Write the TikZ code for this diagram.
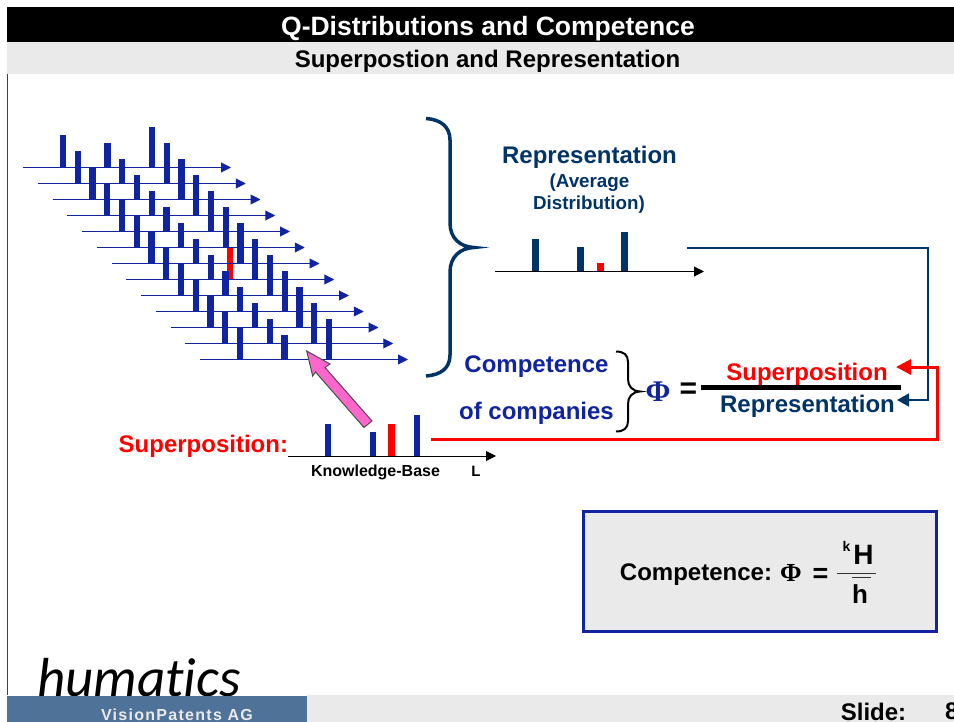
\documentclass[tikz,border=0pt]{standalone}
\usepackage{fontspec}
\setmainfont{Liberation Sans}
\newfontfamily\logofont[Ligatures=NoCommon]{Carlito}
\newfontfamily\symbfont{Liberation Serif}
\usetikzlibrary{arrows.meta}
\definecolor{barblue}{HTML}{1023A0}
\definecolor{navy}{HTML}{003366}
\definecolor{panelgrey}{HTML}{EAEAEA}
\definecolor{footblue}{HTML}{4F7299}
\definecolor{pinkarrow}{HTML}{FF66CC}
\tikzset{
  txt/.style={inner sep=0pt,outer sep=0pt,font=\bfseries,anchor=center},
  axisline/.style={draw=barblue,line width=1pt,-{Triangle[length=10pt,width=10pt]}},
  blackaxis/.style={draw=black,line width=1pt,-{Triangle[length=10pt,width=10pt]}},
  bluebar/.style={draw=barblue,line width=6.4pt},
  navybar/.style={draw=navy,line width=6.4pt},
  redbar/.style={draw=red,line width=6.4pt},
  bigbrace/.style={draw=navy,line width=3.5pt},
  smallbrace/.style={draw=black,line width=2pt},
  navyconn/.style={draw=navy,line width=1.5pt,-{Triangle[length=12pt,width=13pt]}},
  redconn/.style={draw=red,line width=3pt,-{Triangle[length=15pt,width=15pt]}},
}
\begin{document}
\begin{tikzpicture}[x=1pt,y=-1pt]
\useasboundingbox (0,0) rectangle (954,722);
\clip (0,0) rectangle (954,722);
% header
\fill[black] (7,7) rectangle (954,42);
\fill[panelgrey] (7,42) rectangle (954,74);
\draw[line width=1pt,black!75] (7.5,74) -- (7.5,695);
\node[txt,text=white,font=\bfseries\fontsize{26.5}{27}\selectfont] (title) at (488,29) {Q-Distributions and Competence};
\node[txt,font=\bfseries\fontsize{24}{24}\selectfont] (subtitle) at (487.5,61) {Superpostion and Representation};
% stacked distributions
\foreach \r in {0,...,12}{
  \pgfmathsetmacro{\xo}{23+14.75*\r}
  \pgfmathsetmacro{\yo}{167.5+16*\r}
  \ifnum\r=7
    \draw[redbar] (\xo+104,\yo) -- (\xo+104,\yo-32);
  \fi
  \draw[bluebar] (\xo+40,\yo) -- (\xo+40,\yo-32);
  \draw[bluebar] (\xo+84.5,\yo) -- (\xo+84.5,\yo-24);
  \draw[bluebar] (\xo+129,\yo) -- (\xo+129,\yo-40);
}
\foreach \r in {0,...,12}{
  \pgfmathsetmacro{\xo}{23+14.75*\r}
  \pgfmathsetmacro{\yo}{167.5+16*\r}
  \coordinate (rowstart\r) at (\xo,\yo);
  \coordinate (rowend\r) at (\xo+208,\yo);
  \draw[axisline] (rowstart\r) -- (rowend\r);
}
% big brace
\draw[bigbrace] (426,118.5) .. controls (441,119.5) and (450,127) .. (450,140)
  -- (450,223) .. controls (450,238) and (460,247) .. (474,247.5)
  .. controls (460,248) and (450,257) .. (450,272)
  -- (450,355) .. controls (450,368) and (441,375) .. (426,376);
% representation
\node[txt,text=navy,font=\bfseries\fontsize{24}{24}\selectfont] (reptitle) at (589.5,157.5) {Representation};
\node[txt,text=navy,font=\bfseries\fontsize{18.8}{20}\selectfont] (avg1) at (589.5,183) {(Average};
\node[txt,text=navy,font=\bfseries\fontsize{18.8}{20}\selectfont] (avg2) at (589,205) {Distribution)};
\draw[navybar] (535.5,271.5) -- (535.5,239);
\draw[navybar] (580.5,271.5) -- (580.5,247);
\draw[redbar] (600.5,271.5) -- (600.5,263);
\draw[navybar] (624.5,271.5) -- (624.5,232);
\coordinate (repstart) at (495,271.5);
\coordinate (repend) at (704,271.5);
\draw[blackaxis] (repstart) -- (repend);
% competence
\node[txt,text=barblue,font=\bfseries\fontsize{24}{24}\selectfont] (comp1) at (536.5,366.5) {Competence};
\node[txt,text=barblue,font=\bfseries\fontsize{24}{24}\selectfont] (comp2) at (536.5,413) {of companies};
\draw[smallbrace] (616,351.5) .. controls (624,351.5) and (628,355) .. (628,362)
  -- (628,379) .. controls (628,386) and (632,391) .. (640,391.5)
  .. controls (632,392) and (628,397) .. (628,404)
  -- (628,421) .. controls (628,428) and (624,431.5) .. (616,431.5);
\node[txt,text=barblue,font=\symbfont\bfseries\fontsize{30}{30}\selectfont] (phi) at (658,391.5) {Φ};
\node[txt,font=\bfseries\fontsize{30}{30}\selectfont] (eq) at (688.5,391) {=};
\coordinate (fracl) at (701,387);
\coordinate (fracr) at (901,387);
\draw[black,line width=5pt] (fracl) -- (fracr);
\node[txt,text=red,font=\bfseries\fontsize{24}{24}\selectfont] (supnum) at (807,374.5) {Superposition};
\node[txt,text=navy,font=\bfseries\fontsize{24}{24}\selectfont] (repden) at (807.5,406) {Representation};
% superposition distribution
\draw[bluebar] (328,456) -- (328,424);
\draw[bluebar] (373,456) -- (373,431.5);
\draw[redbar] (391.5,456) -- (391.5,424);
\draw[bluebar] (417,456) -- (417,415);
\coordinate (supstart) at (288,456);
\coordinate (supend) at (496,456);
\draw[blackaxis] (supstart) -- (supend);
\node[txt,text=red,font=\bfseries\fontsize{24}{24}\selectfont,anchor=east] (suplabel) at (288,446) {Superposition:};
\node[txt,font=\bfseries\fontsize{16}{16}\selectfont] (kb) at (375.5,472.5) {Knowledge-Base};
\node[txt,font=\bfseries\fontsize{15}{16}\selectfont] (ell) at (476,471) {L};
% pink arrow
\draw[draw=black!70,fill=pinkarrow,line width=1pt,line join=miter]
  (306.7,351) -- (330,364) -- (325,367.5) -- (372,421) -- (364,427.5) -- (315.5,372) -- (312.7,376) -- cycle;
% connectors
\coordinate (repout) at (687,248);
\coordinate (repin) at (897,400);
\draw[navyconn] (repout) -- (928,248) -- (928,400) -- (repin);
\coordinate (supout) at (431,439);
\coordinate (supin) at (896,367);
\draw[redconn,line join=miter] (supout) -- (937,439) -- (937,367) -- (supin);
% competence box
\node[draw=barblue,fill=panelgrey,line width=3pt,minimum width=353pt,minimum height=120pt,inner sep=0pt] (box) at (760,571.5) {};
\node[txt,font=\bfseries\fontsize{24}{24}\selectfont] (complabel) at (696,574.5) {Competence:};
\node[txt,font=\symbfont\bfseries\fontsize{26}{26}\selectfont] (phi2) at (791,573) {Φ};
\node[txt,font=\bfseries\fontsize{27}{27}\selectfont] (eq2) at (820.5,575) {=};
\node[txt,font=\bfseries\fontsize{28}{28}\selectfont] (bigh) at (863.5,555) {H};
\node[txt,font=\bfseries\fontsize{14}{14}\selectfont] (smallk) at (846.5,546.5) {k};
\node[txt,font=\bfseries\fontsize{26}{26}\selectfont] (smallh) at (860,594) {h};
\coordinate (fl) at (837,573.5);
\coordinate (fr) at (876,573.5);
\coordinate (gl) at (852,577.7);
\coordinate (gr) at (871,577.7);
\draw[black!80,line width=1pt] (fl) -- (fr);
\draw[black!80,line width=1pt] (gl) -- (gr);
% footer
\node[txt,font=\logofont\itshape\fontsize{55}{55}\selectfont,anchor=base west] (logo) at (37,696) {humatics};
\fill[panelgrey] (307,695) rectangle (954,722);
\fill[footblue] (7,696) rectangle (307,722);
\node[txt,text=panelgrey,font=\bfseries\fontsize{16}{16}\selectfont\addfontfeature{LetterSpace=8}] (vp) at (177,715) {VisionPatents AG};
\node[txt,font=\bfseries\fontsize{24}{24}\selectfont] (slide) at (873.5,711.5) {Slide:};
\node[txt,font=\bfseries\fontsize{24}{24}\selectfont,anchor=west] (num) at (945,711.5) {8};
\end{tikzpicture}
\end{document}
